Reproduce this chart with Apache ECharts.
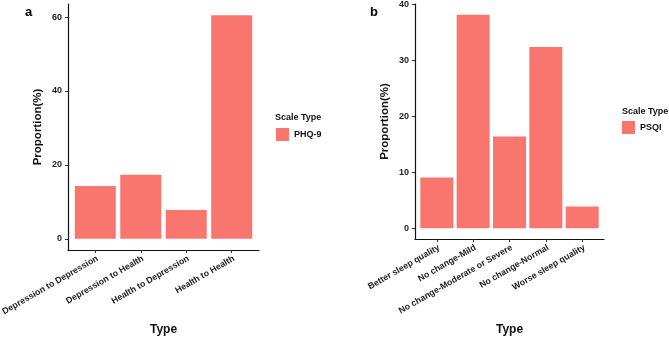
<!DOCTYPE html>
<html>
<head>
<meta charset="utf-8">
<script src="https://cdn.jsdelivr.net/npm/echarts@6/dist/echarts.min.js"></script>
<style>
html, body { margin: 0; padding: 0; background: #fff; }
#chart { width: 669px; height: 338px; }
</style>
</head>
<body>
<div id="chart"></div>
<script>
// panel a: PHQ-9
const phqTypes = ['Depression to Depression', 'Depression to Health', 'Health to Depression', 'Health to Health']
const phqValues = [14.3, 17.3, 7.8, 60.5]
const phqTicks = [0, 20, 40, 60]

// panel b: PSQI
const psqiTypes = ['Better sleep quality', 'No change-Mild', 'No change-Moderate or Severe', 'No change-Normal', 'Worse sleep quality']
const psqiValues = [9.1, 38.2, 16.4, 32.4, 3.9]
const psqiTicks = [0, 10, 20, 30, 40]

const barColor = '#F8766D'
const font = 'Liberation Sans, Arial, sans-serif'

function positions(list) {
    return list.map((_, i) => i + 1)
}

// ggplot style expansion: 5% on continuous, 0.6 on discrete
function xAxisFor(gridIndex, cats, gap) {
    return {
        type: 'value',
        gridIndex: gridIndex,
        min: 0.4,
        max: cats.length + 0.6,
        name: 'Type',
        nameLocation: 'middle',
        nameGap: gap,
        nameTextStyle: { fontFamily: font, fontWeight: 'bold', fontSize: 12, color: '#111' },
        axisLine: { show: true, onZero: false, lineStyle: { color: '#111', width: 1.2 } },
        axisTick: { show: true, length: 3, customValues: positions(cats), lineStyle: { color: '#333' } },
        splitLine: { show: false },
        axisLabel: {
            customValues: positions(cats),
            formatter: (v) => cats[Math.round(v) - 1] || '',
            rotate: 30,
            align: 'right',
            verticalAlign: 'top',
            margin: 4,
            fontFamily: font,
            fontWeight: 'bold',
            fontSize: 8.8,
            color: '#222'
        }
    }
}

function yAxisFor(gridIndex, values, ticks) {
    const top = Math.max(...values)
    return {
        type: 'value',
        gridIndex: gridIndex,
        min: -top * 0.05,
        max: top * 1.05,
        name: 'Proportion(%)',
        nameLocation: 'middle',
        nameGap: 24,
        nameTextStyle: { fontFamily: font, fontWeight: 'bold', fontSize: 11.5, color: '#111' },
        axisLine: { show: true, onZero: false, lineStyle: { color: '#111', width: 1.2 } },
        axisTick: { show: true, length: 3, customValues: ticks, lineStyle: { color: '#333' } },
        splitLine: { show: false },
        axisLabel: {
            customValues: ticks,
            margin: 6,
            fontFamily: font,
            fontWeight: 'bold',
            fontSize: 9,
            color: '#222'
        }
    }
}

const chart = echarts.init(document.getElementById('chart'), null, { renderer: 'canvas' })
chart.setOption({
    backgroundColor: '#fff',
    animation: false,
    title: [
        { text: 'a', left: 25, top: 6, padding: 0, textStyle: { fontFamily: font, fontWeight: 'bold', fontSize: 13, color: '#000' } },
        { text: 'b', left: 370, top: 6, padding: 0, textStyle: { fontFamily: font, fontWeight: 'bold', fontSize: 13, color: '#000' } },
        { text: 'Scale Type', left: 275, top: 113, padding: 0, textStyle: { fontFamily: font, fontWeight: 'bold', fontSize: 9, color: '#111' } },
        { text: 'Scale Type', left: 622, top: 107, padding: 0, textStyle: { fontFamily: font, fontWeight: 'bold', fontSize: 9, color: '#111' } }
    ],
    legend: [
        {
            data: ['PHQ-9'], left: 276, top: 128, padding: 0, icon: 'rect', itemWidth: 13, itemHeight: 13, itemGap: 4,
            textStyle: { fontFamily: font, fontWeight: 'bold', fontSize: 9, color: '#111' }
        },
        {
            data: ['PSQI'], left: 622, top: 121, padding: 0, icon: 'rect', itemWidth: 13, itemHeight: 13, itemGap: 4,
            textStyle: { fontFamily: font, fontWeight: 'bold', fontSize: 9, color: '#111' }
        }
    ],
    grid: [
        { left: 68, top: 4, width: 191, height: 246, outerBoundsMode: 'none', containLabel: false },
        { left: 415, top: 4, width: 189, height: 235, outerBoundsMode: 'none', containLabel: false }
    ],
    xAxis: [xAxisFor(0, phqTypes, 74), xAxisFor(1, psqiTypes, 85)],
    yAxis: [yAxisFor(0, phqValues, phqTicks), yAxisFor(1, psqiValues, psqiTicks)],
    series: [
        {
            name: 'PHQ-9',
            type: 'bar',
            xAxisIndex: 0,
            yAxisIndex: 0,
            barWidth: 41,
            itemStyle: { color: barColor },
            data: phqValues.map((v, i) => [i + 1, v])
        },
        {
            name: 'PSQI',
            type: 'bar',
            xAxisIndex: 1,
            yAxisIndex: 1,
            barWidth: 33,
            itemStyle: { color: barColor },
            data: psqiValues.map((v, i) => [i + 1, v])
        }
    ]
})
</script>
</body>
</html>
